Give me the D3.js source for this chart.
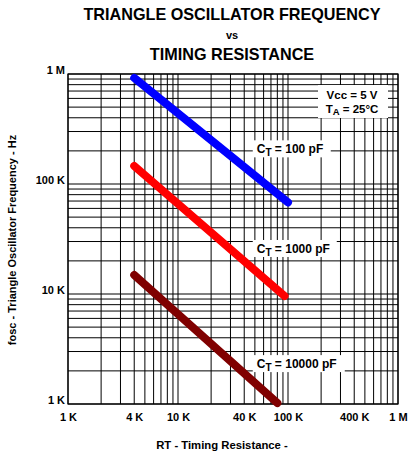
<!DOCTYPE html>
<html><head><meta charset="utf-8">
<script src="https://cdn.jsdelivr.net/npm/d3@7"></script>
<style>body{margin:0;background:#fff}svg{display:block}text{font-family:"Liberation Sans",Arial,sans-serif;font-weight:bold;fill:#000}</style>
</head><body>
<script>
// Data
const xTickValues = [1e3, 4e3, 1e4, 4e4, 1e5, 4e5, 1e6];
const xTickLabels = ["1 K", "4 K", "10 K", "40 K", "100 K", "400 K", "1 M"];
const yTickValues = [1e3, 1e4, 1e5, 1e6];
const yTickLabels = ["1 K", "10 K", "100 K", "1 M"];
const seriesNames = ["100 pF", "1000 pF", "10000 pF"];
const seriesColors = ["#0000ff", "#ff0000", "#800000"];
const rt100 = [4000, 100000];
const f100 = [920000, 68000];
const rt1000 = [4000, 93000];
const f1000 = [146000, 9600];
const rt10000 = [4000, 80000];
const f10000 = [14900, 1020];
const seriesRT = [rt100, rt1000, rt10000];
const seriesF = [f100, f1000, f10000];

const W = 410, H = 462;
const m = {left: 68, right: 398, top: 74, bottom: 404};
const svg = d3.select("body").append("svg").attr("width", W).attr("height", H);

const x = d3.scaleLog().domain([1e3, 1e6]).range([m.left, m.right]);
const y = d3.scaleLog().domain([1e3, 1e6]).range([m.bottom, m.top]);

// grid
const gridVals = [];
for (let d = 1e3; d < 1e6; d *= 10) for (let k = 1; k <= 9; k++) gridVals.push(d * k);
gridVals.push(1e6);
const g = svg.append("g");
g.selectAll("line.v").data(gridVals).join("line").attr("class","v")
  .attr("x1", d => x(d)).attr("x2", d => x(d)).attr("y1", m.top).attr("y2", m.bottom)
  .attr("stroke", "#000").attr("stroke-width", 1);
g.selectAll("line.h").data(gridVals).join("line").attr("class","h")
  .attr("y1", d => y(d)).attr("y2", d => y(d)).attr("x1", m.left).attr("x2", m.right)
  .attr("stroke", "#000").attr("stroke-width", 1);
svg.append("rect").attr("x", m.left).attr("y", m.top).attr("width", m.right - m.left).attr("height", m.bottom - m.top)
  .attr("fill", "none").attr("stroke", "#000").attr("stroke-width", 1.2);

// axes labels
const xAxis = d3.axisBottom(x).tickValues(xTickValues).tickFormat((d, i) => xTickLabels[i]).tickSize(0).tickPadding(9);
const xg = svg.append("g").attr("transform", `translate(0,${m.bottom})`).call(xAxis);
xg.select(".domain").remove();
xg.selectAll("text").style("font-size", "11px").style("font-family", "Liberation Sans, Arial, sans-serif").style("font-weight", "bold").attr("fill", "#000");
const yAxis = d3.axisLeft(y).tickValues(yTickValues).tickFormat((d, i) => yTickLabels[i]).tickSize(0).tickPadding(3);
const yg = svg.append("g").attr("transform", `translate(${m.left},0)`).call(yAxis);
yg.select(".domain").remove();
yg.selectAll("text").style("font-size", "11px").style("font-family", "Liberation Sans, Arial, sans-serif").style("font-weight", "bold").attr("fill", "#000").attr("dy", "-0.05em");

// series
const line = d3.line().x(d => x(d[0])).y(d => y(d[1]));
seriesRT.forEach((rt, i) => {
  const pts = rt.map((r, j) => [r, seriesF[i][j]]);
  svg.append("path").attr("d", line(pts)).attr("fill", "none").attr("stroke", seriesColors[i])
    .attr("stroke-width", 8).attr("stroke-linecap", "round");
});

// CT labels
const labelPos = [[5.2e4, 1.9e5], [5.2e4, 2.36e4], [5.2e4, 2.12e3]];
const labelW = [78, 84, 92];
seriesNames.forEach((n, i) => {
  const lx = x(labelPos[i][0]), ly = y(labelPos[i][1]);
  svg.append("rect").attr("x", lx - 4).attr("y", ly - 13).attr("width", labelW[i]).attr("height", 17).attr("fill", "#fff");
  const t = svg.append("text").attr("x", lx).attr("y", ly).style("font-size", "12px");
  t.append("tspan").text("C");
  t.append("tspan").attr("dy", 3).style("font-size", "10px").text("T");
  t.append("tspan").attr("dy", -3).text(" = " + n);
});

// conditions box
svg.append("rect").attr("x", 318).attr("y", 85).attr("width", 70).attr("height", 33).attr("fill", "#fff");
svg.append("text").attr("x", 352).attr("y", 99).attr("text-anchor", "middle").style("font-size", "11.5px").text("Vcc = 5 V");
const ta = svg.append("text").attr("x", 352).attr("y", 113).attr("text-anchor", "middle").style("font-size", "11.5px");
ta.append("tspan").text("T");
ta.append("tspan").attr("dy", 2).style("font-size", "9.5px").text("A");
ta.append("tspan").attr("dy", -2).text(" = 25°C");

// titles
svg.append("text").attr("x", 232).attr("y", 20).attr("text-anchor", "middle").style("font-size", "16.2px").text("TRIANGLE OSCILLATOR FREQUENCY");
svg.append("text").attr("x", 232).attr("y", 39).attr("text-anchor", "middle").style("font-size", "11px").text("vs");
svg.append("text").attr("x", 232).attr("y", 60).attr("text-anchor", "middle").style("font-size", "16.2px").text("TIMING RESISTANCE");
svg.append("text").attr("x", 222).attr("y", 449).attr("text-anchor", "middle").style("font-size", "11.3px").text("RT - Timing Resistance -");
svg.append("text").attr("transform", "translate(16,240) rotate(-90)").attr("text-anchor", "middle").style("font-size", "11px").text("fosc - Triangle Oscillator Frequency - Hz");
</script>
</body></html>
